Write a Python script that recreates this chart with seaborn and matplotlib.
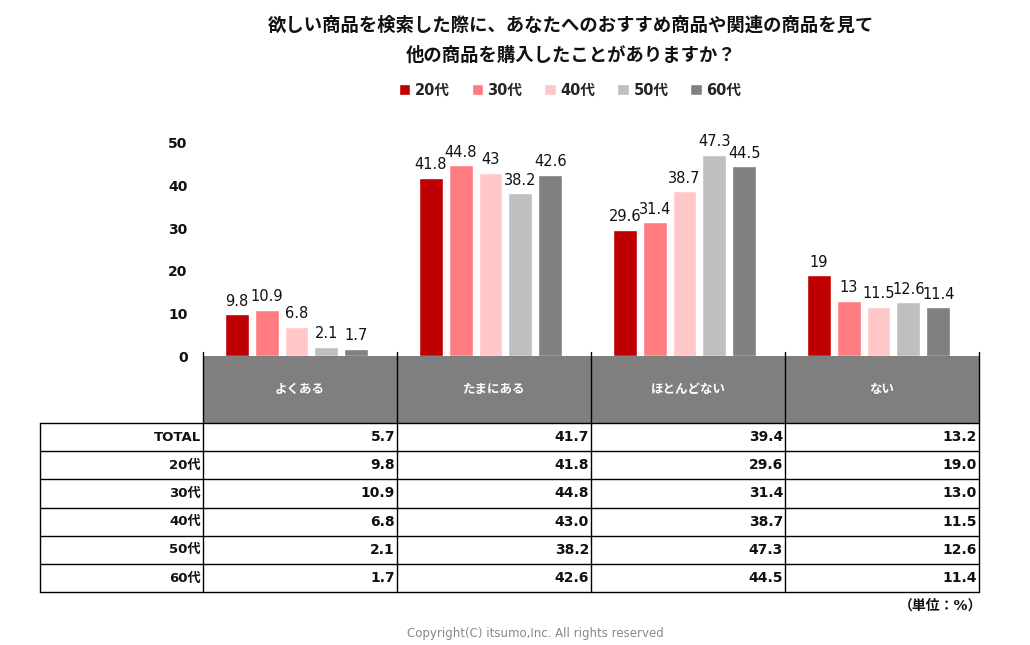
import matplotlib
matplotlib.use("Agg")
import matplotlib.pyplot as plt
import seaborn as sns
import pandas as pd

# data
categories = ["よくある", "たまにある", "ほとんどない", "ない"]
ages = ["20代", "30代", "40代", "50代", "60代"]
v20 = [9.8, 41.8, 29.6, 19.0]
v30 = [10.9, 44.8, 31.4, 13.0]
v40 = [6.8, 43.0, 38.7, 11.5]
v50 = [2.1, 38.2, 47.3, 12.6]
v60 = [1.7, 42.6, 44.5, 11.4]
total = [5.7, 41.7, 39.4, 13.2]
colors = ["#C00000", "#FF7C80", "#FFC7C7", "#BFBFBF", "#808080"]

title1 = "欲しい商品を検索した際に、あなたへのおすすめ商品や関連の商品を見て"
title2 = "他の商品を購入したことがありますか？"

series = [v20, v30, v40, v50, v60]
rows = []
for age, vals in zip(ages, series):
    for cat, v in zip(categories, vals):
        rows.append({"category": cat, "age": age, "value": v})
df = pd.DataFrame(rows)

sns.set_theme(style="white")
plt.rcParams["font.family"] = ["DejaVu Sans", "Noto Sans CJK JP"]

W, H = 1030, 645
fig = plt.figure(figsize=(W / 100, H / 100), dpi=100)

# layout in pixels
left, right = 203, 979
y0, y50 = 356, 143
ax = fig.add_axes([left / W, 1 - y0 / H, (right - left) / W, (y0 - y50) / H])
ax.patch.set_alpha(0)

sns.barplot(data=df, x="category", y="value", hue="age", order=categories,
            hue_order=ages, palette=colors, saturation=1, width=0.77, gap=0.2,
            errorbar=None, ax=ax)

for c in ax.containers:
    ax.bar_label(c, fmt="%g", padding=4, fontsize=10.5, color="#111111")

handles, labels = ax.get_legend_handles_labels()
ax.get_legend().remove()

ax.set_xlim(-0.482, 3.518)
ax.set_ylim(0, 50)
ax.set_yticks([0, 10, 20, 30, 40, 50])
ax.set_yticklabels(["0", "10", "20", "30", "40", "50"], fontweight="bold",
                   fontsize=10, color="#111111")
ax.tick_params(axis="y", length=0, pad=11)
ax.set_xticks([])
ax.set_xlabel("")
ax.set_ylabel("")
sns.despine(ax=ax, left=True, bottom=True)

# overlay in pixel coordinates for texts and table
ov = fig.add_axes([0, 0, 1, 1])
ov.set_xlim(0, W)
ov.set_ylim(H, 0)
ov.axis("off")
ov.patch.set_alpha(0)

ov.text(571, 26, title1, ha="center", va="center", fontsize=13.2, fontweight="bold",
        color="#111111")
ov.text(571, 56, title2, ha="center", va="center", fontsize=13.2, fontweight="bold",
        color="#111111")

fig.legend(handles, labels, loc="center", bbox_to_anchor=(570 / W, 1 - 90 / H),
           ncol=5, frameon=False, handlelength=0.8, handleheight=0.8,
           handletextpad=0.3, columnspacing=1.5,
           prop={"weight": "bold", "size": 10.5})

# table
col_edges = [left + (right - left) * i / 4 for i in range(5)]
head_top, head_bot = 356, 423
row_h = (592 - head_bot) / 6
tab_left = 40
row_labels = ["TOTAL"] + ages
table_vals = [total] + series

ov.add_patch(plt.Rectangle((left, head_top), right - left, head_bot - head_top,
                           facecolor="#7F7F7F", edgecolor="none"))
for i, cat in enumerate(categories):
    cx = (col_edges[i] + col_edges[i + 1]) / 2
    ov.text(cx, (head_top + head_bot) / 2, cat, ha="center", va="center",
            color="white", fontsize=9, fontweight="bold")

bottom = head_bot + row_h * 6
for x in col_edges:
    ov.plot([x, x], [head_top - 4, bottom], color="black", lw=1)
ov.plot([tab_left, tab_left], [head_bot, bottom], color="black", lw=1)
for k in range(7):
    y = head_bot + row_h * k
    ov.plot([tab_left, right], [y, y], color="black", lw=1)

for r, (lab, vals) in enumerate(zip(row_labels, table_vals)):
    cy = head_bot + row_h * (r + 0.5)
    ov.text(left - 2, cy, lab, ha="right", va="center", fontsize=9.5,
            fontweight="bold", color="#111111")
    for i, v in enumerate(vals):
        ov.text(col_edges[i + 1] - 2, cy, f"{v:.1f}", ha="right", va="center",
                fontsize=10, fontweight="bold", color="#111111")

ov.text(982, 606, "（単位：%）", ha="right", va="center", fontsize=10,
        fontweight="bold", color="#111111")
ov.text(535, 633, "Copyright(C) itsumo,Inc. All rights reserved", ha="center",
        va="center", fontsize=8.5, color="#888888")

fig.savefig("out.png", dpi=100)
